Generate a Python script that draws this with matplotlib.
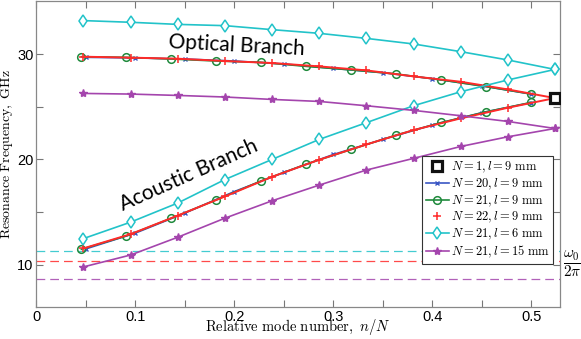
import numpy as np
import matplotlib
matplotlib.use("Agg")
import matplotlib.pyplot as plt

plt.rcParams['mathtext.fontset'] = 'cm'
plt.rcParams['font.family'] = ['Liberation Sans', 'DejaVu Sans']

# relative mode number positions
x_n20 = [0.05, 0.10, 0.15, 0.20, 0.25, 0.30, 0.35, 0.40, 0.45, 0.50]
x_n21 = [0.0476, 0.0952, 0.1429, 0.1905, 0.2381, 0.2857, 0.3333, 0.3810, 0.4286, 0.4762, 0.5238]
x_n22 = [0.0455, 0.0909, 0.1364, 0.1818, 0.2273, 0.2727, 0.3182, 0.3636, 0.4091, 0.4545, 0.5000]

# N = 1, l = 9 mm
x_single = [0.5238]
y_single = [25.83]

# N = 20, l = 9 mm
blue_opt = [29.70, 29.64, 29.54, 29.35, 29.07, 28.65, 28.24, 27.67, 27.00, 26.20]
blue_ac = [11.50, 13.00, 14.90, 16.95, 18.76, 20.47, 21.90, 23.27, 24.44, 25.40]

# N = 21, l = 9 mm
green_opt = [29.76, 29.70, 29.54, 29.35, 29.22, 28.84, 28.50, 28.12, 27.55, 26.91, 26.21]
green_ac = [11.47, 12.73, 14.42, 16.16, 17.97, 19.56, 20.95, 22.32, 23.51, 24.53, 25.42]

# N = 22, l = 9 mm
red_opt = [29.76, 29.67, 29.57, 29.35, 29.16, 28.84, 28.46, 27.89, 27.38, 26.65, 25.83]
red_ac = [11.55, 12.90, 14.67, 16.48, 18.35, 19.97, 21.42, 22.79, 23.90, 24.91, 25.83]

# N = 21, l = 6 mm
cyan_opt = [33.19, 33.03, 32.83, 32.71, 32.33, 31.98, 31.50, 30.97, 30.24, 29.45, 28.55]
cyan_ac = [12.48, 14.04, 15.86, 18.09, 20.00, 21.90, 23.49, 25.10, 26.43, 27.55, 28.55]

# N = 21, l = 15 mm
purple_opt = [26.27, 26.21, 26.08, 25.93, 25.70, 25.51, 25.10, 24.66, 24.15, 23.61, 22.94]
purple_ac = [9.79, 10.92, 12.61, 14.42, 16.07, 17.56, 18.99, 20.10, 21.23, 22.15, 22.94]

# omega_0 / 2pi levels
w0_cyan = 11.31
w0_red = 10.35
w0_purple = 8.67

c_blue = '#3a56c4'
c_green = '#1f8a3c'
c_red = '#ff2a2a'
c_cyan = '#22c3c9'
c_purple = '#a445ad'

# marker styles
st_blue = dict(color=c_blue, marker='x', ms=3.5, mew=1.0, lw=1.2)
st_green = dict(color=c_green, marker='o', ms=5.5, mfc='none', mew=1.1, lw=1.2)
st_red = dict(color=c_red, marker='+', ms=6, mew=1.1, ls='none')
st_cyan = dict(color=c_cyan, marker='d', ms=6.5, mfc='white', mew=1.1, lw=1.2)
st_purple = dict(color=c_purple, marker='*', ms=6, lw=1.2)
st_black = dict(ls='none', marker='s', ms=6.5, mfc='white', mec='#111111', mew=2.3)

fig = plt.figure(figsize=(5.81, 3.39), dpi=100)
ax = fig.add_axes([0.0625, 0.095, 0.9015, 0.902])

# dashed reference lines
ax.axhline(w0_cyan, color=c_cyan, ls=(0, (7, 4)), lw=0.9, alpha=0.85)
ax.axhline(w0_red, color=c_red, ls=(0, (7, 4)), lw=0.9, alpha=0.85)
ax.axhline(w0_purple, color=c_purple, ls=(0, (7, 4)), lw=0.9, alpha=0.85)

# N = 20
ax.plot(x_n20, blue_opt, **st_blue)
ax.plot(x_n20, blue_ac, **st_blue)

# N = 21, l = 9
for yy in (green_opt, green_ac):
    ax.plot(x_n22, yy, **st_green)

# N = 22
for yy in (red_opt, red_ac):
    ax.plot(x_n21, yy, color=c_red, lw=1.4)
    ax.plot(x_n21, yy, **st_red)

# N = 21, l = 6
for yy in (cyan_opt, cyan_ac):
    ax.plot(x_n21, yy, **st_cyan)

# N = 21, l = 15
for yy in (purple_opt, purple_ac):
    ax.plot(x_n21, yy, **st_purple)

ax.plot(x_single, y_single, zorder=5, **st_black)

# legend handles
h1, = ax.plot([], [], **st_black)
h2, = ax.plot([], [], **st_blue)
h3, = ax.plot([], [], **st_green)
h4, = ax.plot([], [], **st_red)
h5, = ax.plot([], [], **st_cyan)
h6, = ax.plot([], [], **st_purple)
labels = [r'$N=1, l=9\ \mathrm{mm}$', r'$N=20, l=9\ \mathrm{mm}$', r'$N=21, l=9\ \mathrm{mm}$',
          r'$N=22, l=9\ \mathrm{mm}$', r'$N=21, l=6\ \mathrm{mm}$', r'$N=21, l=15\ \mathrm{mm}$']
leg = ax.legend([h1, h2, h3, h4, h5, h6], labels, loc='upper right', bbox_to_anchor=(0.987, 0.493),
                fontsize=9, fancybox=False, framealpha=1, edgecolor='#333333',
                handlelength=1.9, handletextpad=0.1, labelspacing=0.12, borderpad=0.3,
                borderaxespad=0.0)
leg.get_frame().set_linewidth(0.8)

# branch annotations
ax.text(0.2027, 30.8, 'Optical Branch', family='Lato', fontsize=15, rotation=-3,
        ha='center', va='center')
ax.text(0.154, 18.5, 'Acoustic Branch', family='Lato', fontsize=15, rotation=24,
        ha='center', va='center')

ax.text(1.006, 10.0, r'$\dfrac{\omega_0}{2\pi}$', transform=ax.get_yaxis_transform(),
        fontsize=11, ha='left', va='center')

ax.set_xlim(0, 0.529)
ax.set_ylim(6, 35.05)
xt = [0, 0.05, 0.1, 0.15, 0.2, 0.25, 0.3, 0.35, 0.4, 0.45, 0.5]
xt_labels = ['0', '', '0.1', '', '0.2', '', '0.3', '', '0.4', '', '0.5']
yt = [10, 15, 20, 25, 30]
yt_labels = ['10', '', '20', '', '30']
ax.set_xticks(xt)
ax.set_xticklabels(xt_labels)
ax.set_yticks(yt)
ax.set_yticklabels(yt_labels)
ax.tick_params(direction='in', length=5, width=0.8, color='#777777', labelsize=10.5,
               top=True, right=True, pad=2)
for s in ax.spines.values():
    s.set_color('#888888')
    s.set_linewidth(0.9)

# x label placed from the figure bottom so it stays inside the canvas
fig.text(0.5125, 0.006, r'$\mathrm{Relative\ mode\ number},\ n/N$', fontsize=10.5,
         ha='center', va='bottom')
ax.set_ylabel(r'$\mathrm{Resonance\ Frequency},\ \mathrm{GHz}$', fontsize=10)
ax.yaxis.set_label_coords(-0.041, 0.5)

fig.savefig('out.png', dpi=100)
